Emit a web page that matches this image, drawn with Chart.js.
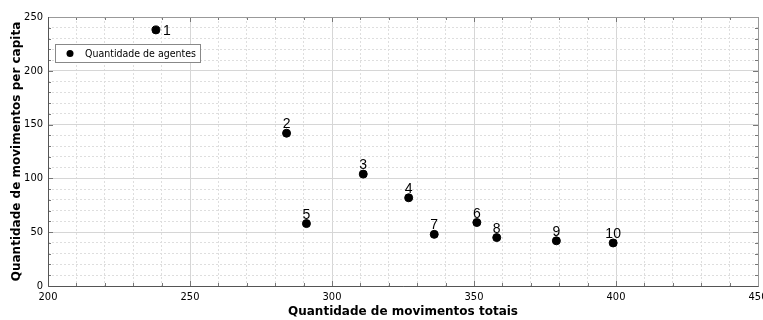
<!DOCTYPE html>
<html>
<head>
<meta charset="utf-8">
<script src="https://cdn.jsdelivr.net/npm/chart.js@4/dist/chart.umd.min.js"></script>
<style>
  html, body { margin: 0; padding: 0; background: #fff; }
  #wrap { width: 763px; height: 320px; }
</style>
</head>
<body>
<div id="wrap"><canvas id="chart" width="763" height="320"></canvas></div>
<script>
// === Dados ===
const pointLabels = ["1", "2", "3", "4", "5", "6", "7", "8", "9", "10"];
const totalMoves = [238, 284, 311, 327, 291, 351, 336, 358, 379, 399];
const perCapita = [238, 142, 104, 82, 58, 59, 48, 45, 42, 40];
const xTickLabels = [200, 250, 300, 350, 400, 450];
const yTickLabels = [0, 50, 100, 150, 200, 250];

const tickFont = { family: "'DejaVu Sans Condensed', 'DejaVu Sans', sans-serif", size: 11 };
const titleFont = { family: "'DejaVu Sans', sans-serif", size: 12, weight: "bold" };

function isMajor(ctx, list) {
    return ctx.tick && list.includes(ctx.tick.value);
}

// === Plugin: moldura, ticks internos, rótulos e legenda ===
const decorPlugin = {
    id: "decor",
    afterDraw(chart) {
        const ctx = chart.ctx;
        const area = chart.chartArea;
        const xs = chart.scales.x;
        const ys = chart.scales.y;

        ctx.save();
        // ticks internos
        ctx.strokeStyle = "#777";
        ctx.lineWidth = 1;
        ctx.beginPath();
        xs.ticks.forEach(t => {
            const px = Math.round(xs.getPixelForValue(t.value)) + 0.5;
            const len = xTickLabels.includes(t.value) ? 5 : 3;
            ctx.moveTo(px, area.bottom);
            ctx.lineTo(px, area.bottom - len);
            ctx.moveTo(px, area.top);
            ctx.lineTo(px, area.top + len);
        });
        ys.ticks.forEach(t => {
            const py = Math.round(ys.getPixelForValue(t.value)) + 0.5;
            const len = yTickLabels.includes(t.value) ? 5 : 3;
            ctx.moveTo(area.left, py);
            ctx.lineTo(area.left + len, py);
            ctx.moveTo(area.right, py);
            ctx.lineTo(area.right - len, py);
        });
        ctx.stroke();

        // moldura
        ctx.strokeStyle = "#999";
        ctx.strokeRect(Math.round(area.left) + 0.5, Math.round(area.top) + 0.5,
            Math.round(area.right - area.left), Math.round(area.bottom - area.top));
        ctx.strokeStyle = "#555";
        ctx.beginPath();
        ctx.moveTo(Math.round(area.left) + 0.5, Math.round(area.top));
        ctx.lineTo(Math.round(area.left) + 0.5, Math.round(area.bottom) + 0.5);
        ctx.lineTo(Math.round(area.right) + 0.5, Math.round(area.bottom) + 0.5);
        ctx.stroke();

        // rótulos dos pontos
        const meta = chart.getDatasetMeta(0);
        ctx.fillStyle = "#000";
        ctx.font = "14px 'Liberation Sans', Arial, sans-serif";
        meta.data.forEach((pt, i) => {
            if (i === 0) {
                ctx.textAlign = "left";
                ctx.textBaseline = "middle";
                ctx.fillText(pointLabels[i], pt.x + 7, pt.y + 1);
            } else {
                ctx.textAlign = "center";
                ctx.textBaseline = "alphabetic";
                ctx.fillText(pointLabels[i], pt.x, pt.y - 5);
            }
        });

        // legenda
        const lx = area.left + 7, ly = area.top + 27, lw = 145, lh = 18;
        ctx.fillStyle = "#fff";
        ctx.fillRect(lx, ly, lw, lh);
        ctx.strokeStyle = "#888";
        ctx.strokeRect(lx + 0.5, ly + 0.5, lw, lh);
        ctx.fillStyle = "#000";
        ctx.beginPath();
        ctx.arc(lx + 15, ly + 9.5, 3.5, 0, 2 * Math.PI);
        ctx.fill();
        ctx.font = "10.5px 'DejaVu Sans Condensed', 'DejaVu Sans', sans-serif";
        ctx.textAlign = "left";
        ctx.textBaseline = "middle";
        ctx.fillText(chart.data.datasets[0].label, lx + 30, ly + 10);
        ctx.restore();
    }
};

const chart = new Chart(document.getElementById("chart"), {
    type: "scatter",
    data: {
        datasets: [{
            label: "Quantidade de agentes",
            data: totalMoves.map((v, i) => ({ x: v, y: perCapita[i] })),
            backgroundColor: "#000",
            borderColor: "#000",
            pointRadius: 4,
            pointHoverRadius: 4
        }]
    },
    options: {
        responsive: false,
        animation: false,
        layout: { padding: { top: 17, right: 5, left: 0, bottom: 0 } },
        plugins: {
            legend: { display: false },
            tooltip: { enabled: false }
        },
        scales: {
            x: {
                type: "linear",
                min: 200,
                max: 450,
                afterFit(scale) {
                    scale.height = 34;
                    scale.paddingLeft = 0;
                    scale.paddingRight = 0;
                },
                ticks: {
                    stepSize: 10,
                    autoSkip: false,
                    maxRotation: 0,
                    padding: 5,
                    color: "#000",
                    font: tickFont,
                    callback: v => xTickLabels.includes(v) ? String(v) : ""
                },
                grid: {
                    drawTicks: false,
                    color: ctx => isMajor(ctx, xTickLabels) ? "#d6d6d6" : "#dedede",
                    lineWidth: 1
                },
                border: {
                    display: false,
                    dash: ctx => isMajor(ctx, xTickLabels) ? [] : [2, 2]
                },
                title: {
                    display: true,
                    text: "Quantidade de movimentos totais",
                    color: "#000",
                    font: titleFont,
                    padding: { top: 0, bottom: 1 }
                }
            },
            y: {
                type: "linear",
                min: 0,
                max: 250,
                afterFit(scale) {
                    scale.width = 48;
                    scale.paddingTop = 0;
                    scale.paddingBottom = 0;
                },
                ticks: {
                    stepSize: 10,
                    autoSkip: false,
                    padding: 5,
                    color: "#000",
                    font: tickFont,
                    callback: v => yTickLabels.includes(v) ? String(v) : ""
                },
                grid: {
                    drawTicks: false,
                    color: ctx => isMajor(ctx, yTickLabels) ? "#d6d6d6" : "#dedede",
                    lineWidth: 1
                },
                border: {
                    display: false,
                    dash: ctx => isMajor(ctx, yTickLabels) ? [] : [2, 2]
                },
                title: {
                    display: true,
                    text: "Quantidade de movimentos per capita",
                    color: "#000",
                    font: titleFont,
                    padding: { top: 10, bottom: 0 }
                }
            }
        }
    },
    plugins: [decorPlugin]
});
</script>
</body>
</html>
